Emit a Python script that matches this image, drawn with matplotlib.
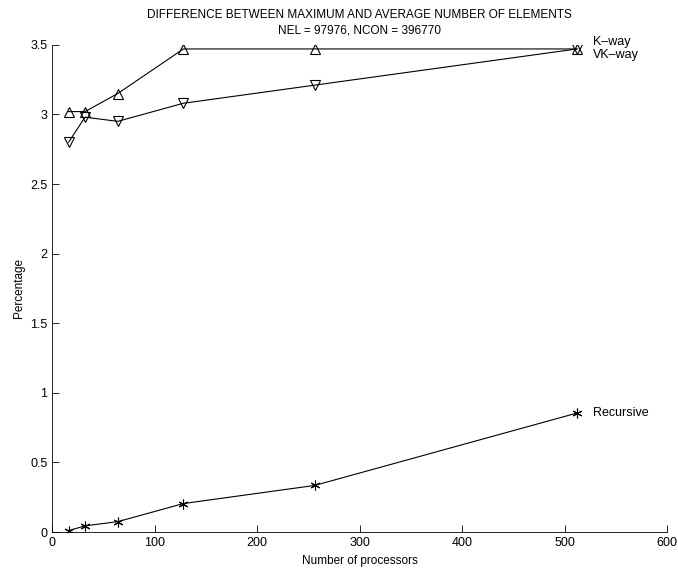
import matplotlib.pyplot as plt

plt.rcParams['font.family'] = ['Liberation Sans', 'DejaVu Sans']
plt.rcParams['font.size'] = 8

# Datos
procesadores = [16, 32, 64, 128, 256, 512]
kway = [3.02, 3.02, 3.15, 3.47, 3.47, 3.47]
vkway = [2.80, 2.98, 2.95, 3.08, 3.21, 3.47]
recursivo = [0.01, 0.045, 0.075, 0.205, 0.335, 0.855]

fig = plt.figure(figsize=(6.78, 5.74), dpi=100)
ax = fig.add_axes([0.077, 0.073, 0.907, 0.849])

ax.plot(procesadores, kway, color='black', lw=0.8, marker='^',
        markerfacecolor='none', markeredgecolor='black', markersize=7, markeredgewidth=0.8)
ax.plot(procesadores, vkway, color='black', lw=0.8, marker='v',
        markerfacecolor='none', markeredgecolor='black', markersize=7, markeredgewidth=0.8)
# asterisco estilo MATLAB
ax.plot(procesadores, recursivo, color='black', lw=0.8, marker=(6, 2, 0),
        markeredgecolor='black', markersize=7, markeredgewidth=0.8)

# Etiquetas al final de cada curva
ax.text(procesadores[-1] + 16, kway[-1] + 0.05, "K\u2013way", fontsize=9, va='center')
ax.text(procesadores[-1] + 16, vkway[-1] - 0.045, "VK\u2013way", fontsize=9, va='center')
ax.text(procesadores[-1] + 16, recursivo[-1], "Recursive", fontsize=9, va='center')

ax.set_xlim(0, 600)
ax.set_ylim(0, 3.5)
ax.set_xticks([0, 100, 200, 300, 400, 500, 600])
ax.set_yticks([0, 0.5, 1, 1.5, 2, 2.5, 3, 3.5])
ax.set_yticklabels(['0', '0.5', '1', '1.5', '2', '2.5', '3', '3.5'])
ax.tick_params(direction='in', length=5, width=0.6, labelsize=9)
ax.spines['top'].set_visible(False)
ax.spines['right'].set_visible(False)
ax.spines['left'].set_linewidth(0.6)
ax.spines['bottom'].set_linewidth(0.6)

ax.set_xlabel("Number of processors", fontsize=8.5, labelpad=4)
ax.set_ylabel("Percentage", fontsize=8.5, labelpad=4)
ax.set_title("DIFFERENCE BETWEEN MAXIMUM AND AVERAGE NUMBER OF ELEMENTS\nNEL = 97976, NCON = 396770",
             fontsize=8.5, pad=8, linespacing=1.45)

fig.savefig("out.png", dpi=100)
